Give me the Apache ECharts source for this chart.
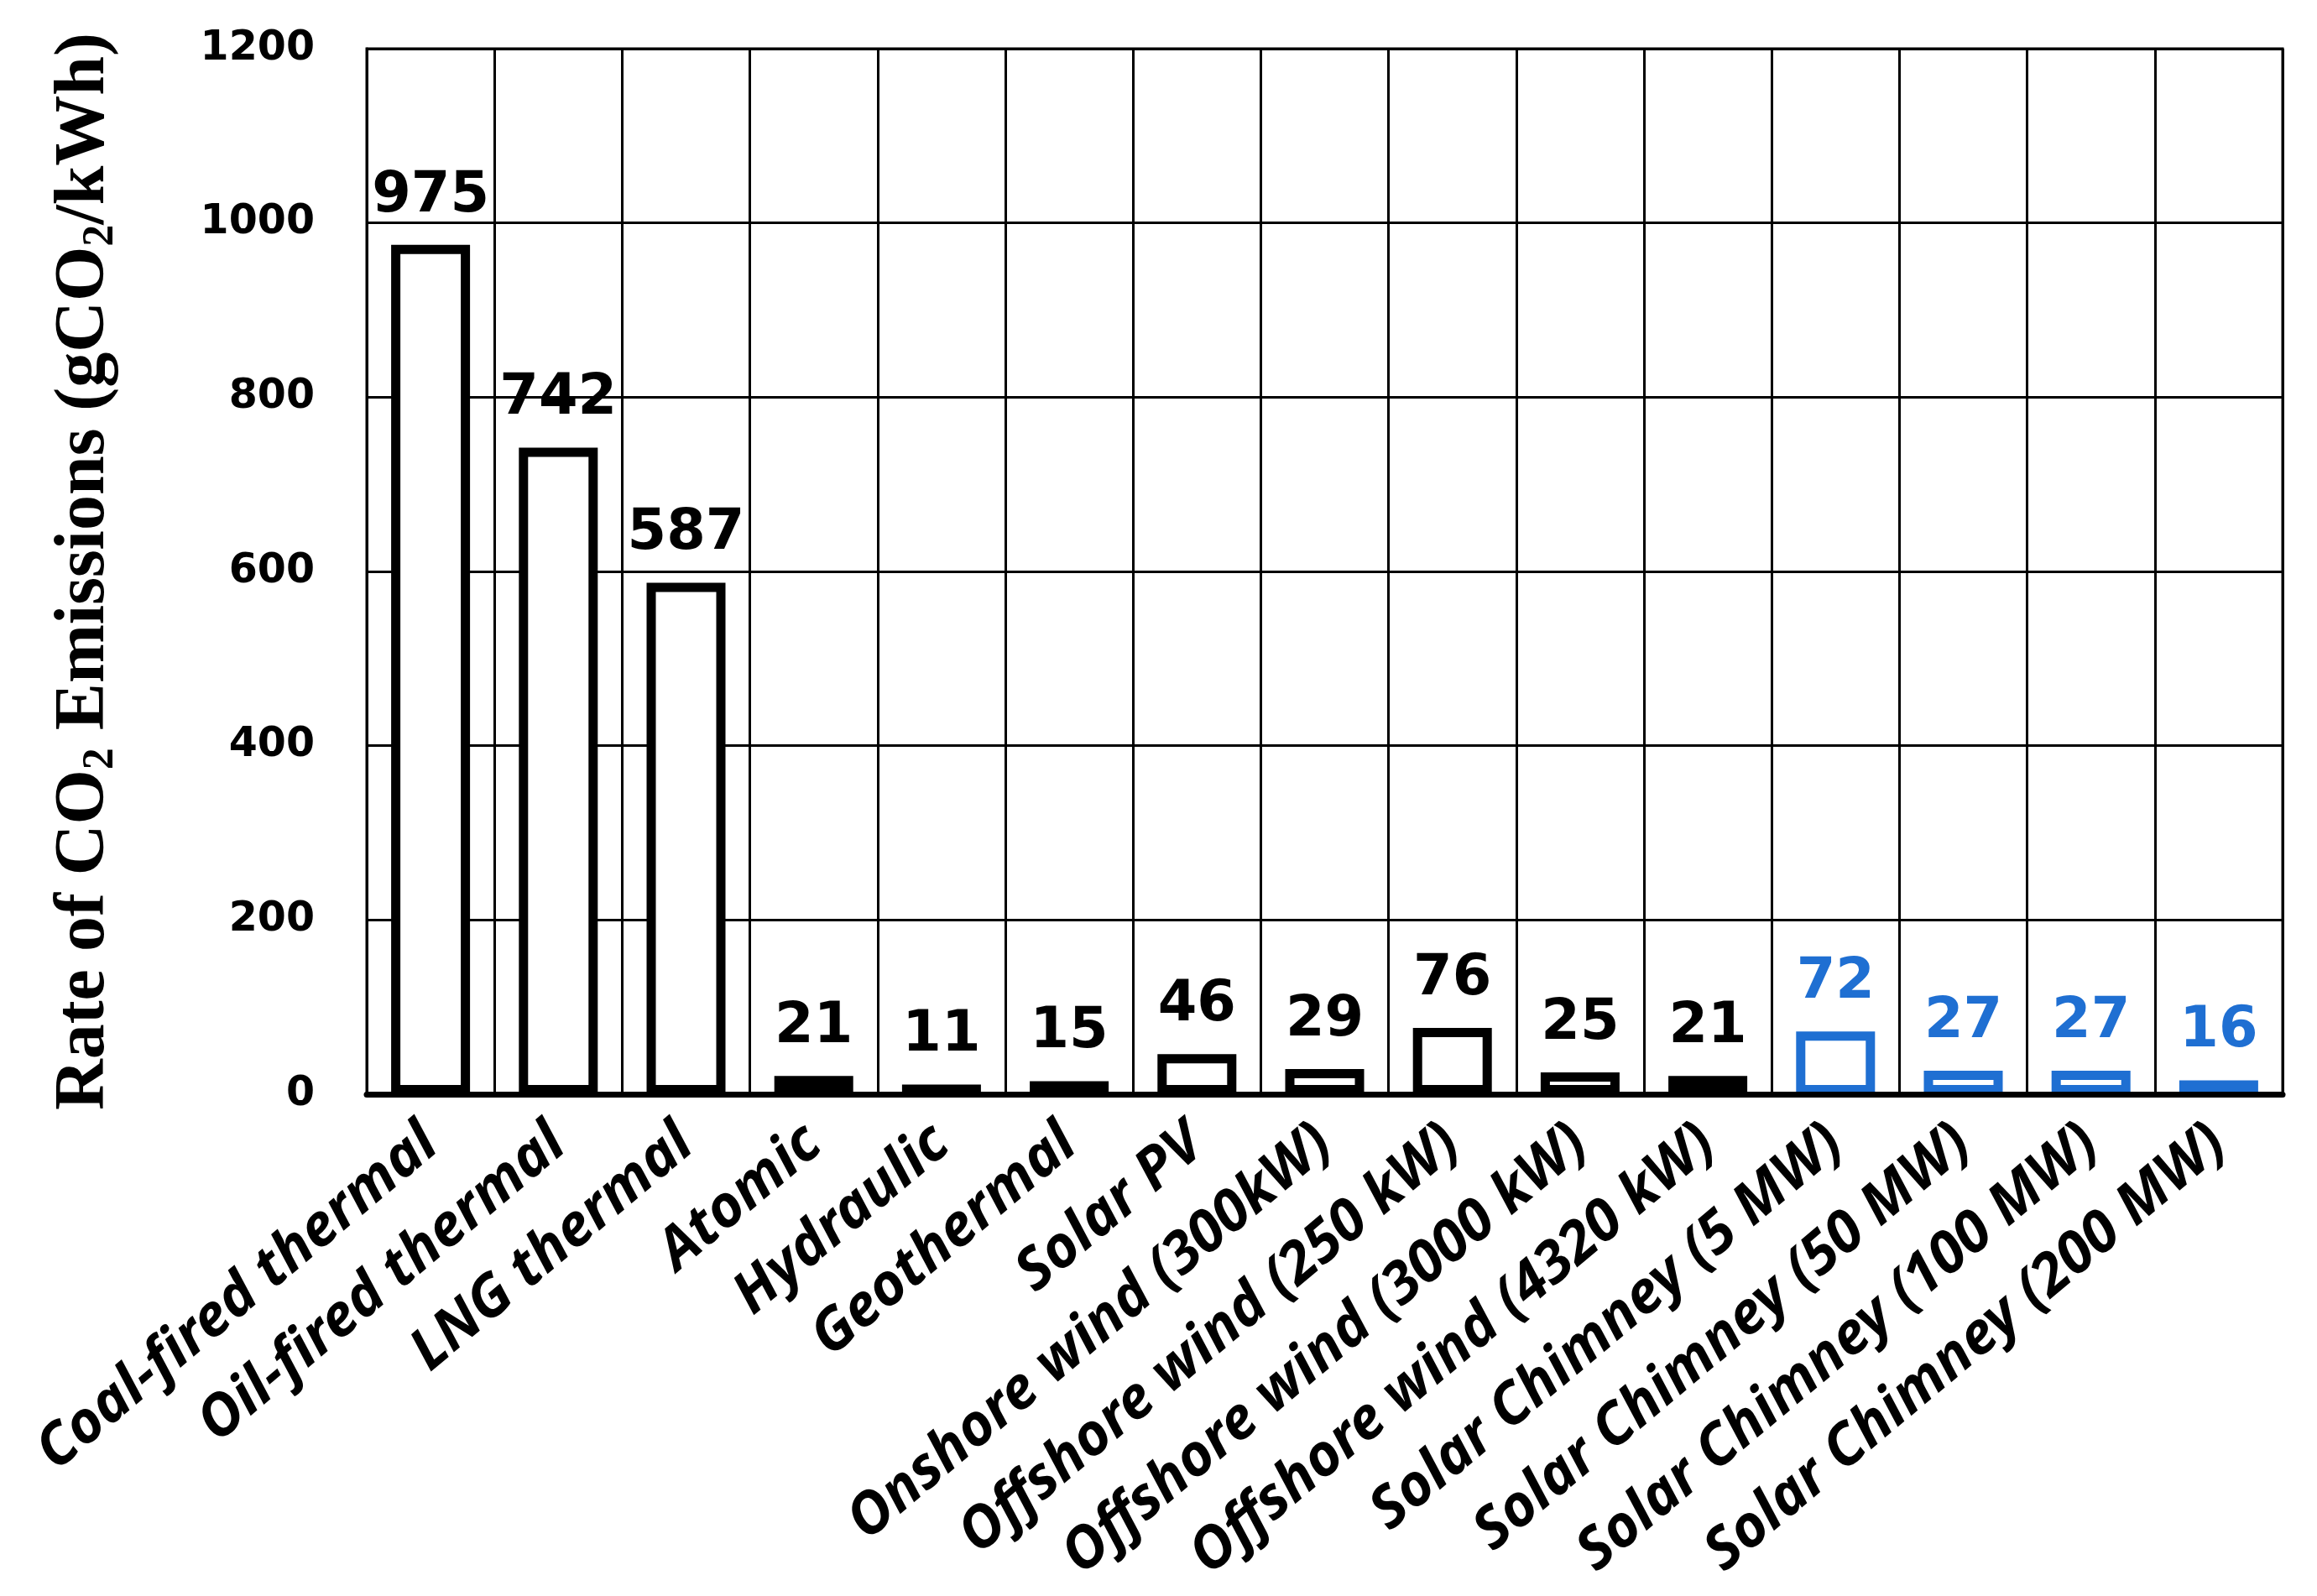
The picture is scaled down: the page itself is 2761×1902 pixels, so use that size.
<!DOCTYPE html>
<html>
<head>
<meta charset="utf-8">
<script src="https://cdn.jsdelivr.net/npm/echarts@6/dist/echarts.min.js"></script>
<style>
  html, body { margin: 0; padding: 0; background: #fff; }
  #chart { width: 2761px; height: 1902px; }
</style>
</head>
<body>
<div id="chart"></div>
<script>
var categories = [
    'Coal-fired thermal', 'Oil-fired thermal', 'LNG thermal', 'Atomic', 'Hydraulic',
    'Geothermal', 'Solar PV', 'Onshore wind (300kW)', 'Offshore wind (250 kW)',
    'Offshore wind (3000 kW)', 'Offshore wind (4320 kW)', 'Solar Chimney (5 MW)',
    'Solar Chimney (50 MW)', 'Solar Chimney (100 MW)', 'Solar Chimney (200 MW)'
];
var emissions = [975, 742, 587, 21, 11, 15, 46, 29, 76, 25, 21, 72, 27, 27, 16];

var BLACK = '#000000';
var BLUE = '#1f6fd2';

var chart = echarts.init(document.getElementById('chart'));

// solar chimney bars are drawn in blue
var barData = emissions.map(function (v, i) {
    var c = categories[i].indexOf('Solar Chimney') === 0 ? BLUE : BLACK;
    return {
        value: v,
        itemStyle: { color: '#fff', borderColor: c, borderWidth: 11 },
        label: { color: c }
    };
});

var option = {
    backgroundColor: '#fff',
    animation: false,
    grid: {
        left: 437, right: 41, top: 58, bottom: 598,
        outerBoundsMode: 'none',
        show: true, borderColor: BLACK, borderWidth: 3, backgroundColor: 'transparent'
    },
    xAxis: {
        type: 'category',
        data: categories,
        z: 3,
        axisLine: { show: true, lineStyle: { color: BLACK, width: 7 } },
        axisTick: { show: false },
        splitLine: { show: true, interval: 0, lineStyle: { color: BLACK, width: 3 } },
        axisLabel: {
            interval: 0,
            rotate: 40,
            margin: 50,
            color: BLACK,
            fontFamily: 'Noto Sans',
            fontStyle: 'italic',
            fontWeight: 'bold',
            fontSize: 69
        }
    },
    yAxis: {
        type: 'value',
        min: 0,
        max: 1200,
        interval: 200,
        axisLine: { show: true, lineStyle: { color: BLACK, width: 3 } },
        axisTick: { show: false },
        splitLine: { show: true, lineStyle: { color: BLACK, width: 3 } },
        axisLabel: {
            margin: 62,
            color: BLACK,
            fontFamily: 'DejaVu Sans',
            fontWeight: 'bold',
            fontSize: 49,
            formatter: function (v) { return String(v); }
        },
        name: 'Rate of CO{s|2} Emissions (gCO{s|2}/kWh)',
        nameLocation: 'middle',
        nameGap: 290,
        nameRotate: 90,
        nameTextStyle: {
            color: BLACK,
            fontFamily: 'Liberation Serif',
            fontWeight: 'bold',
            fontSize: 84,
            lineHeight: 92,
            rich: {
                s: {
                    color: BLACK,
                    fontFamily: 'Liberation Serif',
                    fontWeight: 'bold',
                    fontSize: 52,
                    verticalAlign: 'bottom',
                    padding: [34, 0, 0, 0]
                }
            }
        }
    },
    series: [{
        type: 'bar',
        data: barData,
        barWidth: 94,
        label: {
            show: true,
            position: 'top',
            distance: 24,
            fontFamily: 'DejaVu Sans',
            fontWeight: 'bold',
            fontSize: 67
        }
    }]
};

chart.setOption(option);
window.addEventListener('resize', function () {
    chart.resize();
});
</script>
</body>
</html>
